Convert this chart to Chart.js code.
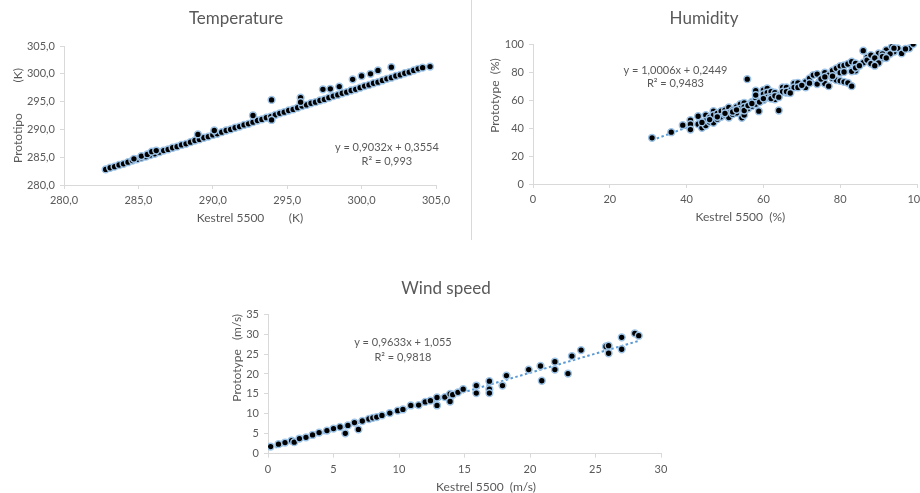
<!DOCTYPE html>
<html>
<head>
<meta charset="utf-8">
<title>Kestrel 5500 vs Prototype</title>
<script src="https://cdn.jsdelivr.net/npm/chart.js@4.4.1/dist/chart.umd.min.js"></script>
<style>
  html, body { margin: 0; padding: 0; background: #fff; }
  body { width: 920px; height: 493px; overflow: hidden; position: relative; }
  .box { position: absolute; }
  #divider { position: absolute; left: 471px; top: 0; width: 1px; height: 240px; background: #d9d9d9; }
</style>
</head>
<body>
<div class="box" style="left:0;top:0;width:472px;height:240px"><canvas id="tempChart"></canvas></div>
<div id="divider"></div>
<div class="box" style="left:472px;top:0;width:464px;height:240px"><canvas id="humChart"></canvas></div>
<div class="box" style="left:200px;top:268px;width:492px;height:235px"><canvas id="windChart"></canvas></div>

<script>
// Temperature (K)
const tempKestrel = [
  282.8, 283.1, 283.4, 283.7, 284.0, 284.3, 284.6, 284.9, 285.2, 285.5, 285.8, 286.1,
  286.4, 286.7, 287.0, 287.3, 287.6, 287.9, 288.2, 288.5, 288.8, 289.1, 289.4, 289.7,
  290.0, 290.3, 290.6, 290.9, 291.2, 291.5, 291.8, 292.1, 292.4, 292.7, 293.0, 293.3,
  293.6, 293.9, 294.2, 294.5, 294.8, 295.1, 295.4, 295.7, 296.0, 296.3, 296.6, 296.9,
  297.2, 297.5, 297.8, 298.1, 298.4, 298.7, 299.0, 299.3, 299.6, 299.9, 300.2, 300.5,
  300.8, 301.1, 301.4, 301.7, 302.0, 302.3, 302.6, 302.9, 303.2, 303.5, 303.8, 304.1,
  284.7, 285.2, 285.6, 285.9, 286.2, 289.0, 290.1, 292.7, 293.95, 293.95, 295.9, 295.9,
  297.4, 297.9, 298.5, 299.4, 300.0, 300.6, 301.1, 302.0, 304.6
];
const tempPrototype = [
  282.8, 283.1, 283.3, 283.6, 283.8, 284.1, 284.4, 284.6, 284.9, 285.1, 285.4, 285.6,
  285.9, 286.2, 286.4, 286.7, 286.9, 287.2, 287.4, 287.7, 288.0, 288.2, 288.5, 288.7,
  289.0, 289.2, 289.5, 289.8, 290.0, 290.3, 290.5, 290.8, 291.0, 291.3, 291.6, 291.8,
  292.1, 292.3, 292.6, 292.9, 293.1, 293.4, 293.6, 293.9, 294.2, 294.4, 294.7, 294.9,
  295.2, 295.4, 295.7, 296.0, 296.2, 296.5, 296.7, 297.0, 297.2, 297.5, 297.8, 298.0,
  298.3, 298.5, 298.8, 299.1, 299.3, 299.6, 299.8, 300.1, 300.3, 300.6, 300.9, 301.1,
  284.7, 285.2, 285.5, 286.0, 286.2, 289.1, 289.8, 292.5, 295.3, 291.7, 295.7, 294.9,
  297.2, 297.3, 297.7, 299.0, 299.6, 300.0, 300.6, 301.2, 301.3
];
const tempTrendX = [282.7, 304.6];
const tempTrendY = [282.8, 301.2];

// Humidity (%)
const humKestrel = [
  31, 36, 39, 41, 41, 41, 43, 43, 44, 45, 45, 45, 46, 46, 47, 47, 47, 48, 48, 49, 49,
  50, 50, 51, 51, 51, 52, 52, 53, 53, 54, 54, 54.4, 55, 55, 55, 55.8, 56, 57, 57, 58,
  58, 58, 58, 58.8, 60, 60, 60, 61, 61, 61, 62, 62, 63, 63, 64, 64, 65, 65, 66, 66, 67,
  68, 68, 69, 71, 71, 72, 73, 74, 74, 76, 76, 77, 77, 78, 78, 79, 79, 80, 80, 81, 81,
  82, 82, 83, 83, 84, 84, 86, 86, 87, 87, 88, 89, 89, 90, 91, 92, 92, 93.5, 94, 95, 96,
  98, 99,
  44, 46, 48, 50, 52, 53, 55, 56, 57, 59, 60, 62, 63, 64, 66, 67, 69, 70, 72, 75, 76,
  78, 80, 81, 83, 84, 85, 88, 89, 90, 91, 93, 94, 97, 89, 91, 92
];
const humPrototype = [
  33, 37, 42, 45.6, 42.7, 38.9, 48.4, 42.7, 40.1, 49.2, 45.1, 41.8, 47.5, 44.2, 52, 49.2,
  43.7, 50.4, 46.3, 52, 48, 52.7, 49.2, 54.7, 50.8, 47.5, 52.7, 49.9, 55.1, 50.8, 57,
  53.9, 47.3, 49.2, 58, 55.1, 74.9, 53.9, 58.7, 55.6, 60.4, 57, 66.6, 63.5, 52, 67.1,
  64.2, 59.9, 68.3, 65.2, 61.8, 65.9, 62.3, 65.2, 60.4, 52.5, 63.5, 69, 65.9, 69, 65.2,
  67.1, 71.8, 69, 72.3, 69, 73, 75.4, 77.8, 71.4, 78.5, 79.5, 71.8, 69.9, 77.8, 80.9,
  75.4, 82.6, 74.2, 84.2, 73.7, 84.7, 73, 85.7, 72.3, 69.9, 87.4, 80.9, 86.2, 95.2, 86.6,
  90.5, 88.5, 92.1, 85.7, 88.5, 93.3, 89.7, 95.7, 92.1, 98.1, 94.5, 96.9, 93.3, 96.9, 100,
  44, 46, 48, 50.5, 51.5, 53, 52.5, 56, 57.5, 58.5, 61, 61, 63, 62, 66, 65, 69, 70.5, 72,
  75, 76.5, 77, 79.5, 80, 80.5, 83, 84.5, 86, 90, 86.5, 93, 93, 97, 96.5, 84.5, 91, 90
];
const humTrendX = [31, 99];
const humTrendY = [31.3, 99.3];

// Wind speed (m/s)
const windKestrel = [
  0.2, 0.8, 1.3, 1.8, 2.0, 2.4, 2.9, 3.4, 3.9, 4.5, 5.0, 5.5, 5.9, 6.1, 6.6, 6.9, 7.2,
  7.7, 8.0, 8.3, 8.7, 9.3, 9.9, 10.3, 10.9, 11.5, 12.0, 12.4, 12.9, 12.9, 13.5, 13.9,
  13.9, 14.1, 14.5, 14.9, 15.9, 15.9, 16.9, 16.9, 16.9, 17.9, 18.2, 19.9, 20.8, 20.9,
  21.9, 21.9, 22.9, 23.2, 23.9, 25.8, 26.0, 26.0, 27.0, 27.0, 28.0, 28.3
];
const windPrototype = [
  1.8, 2.4, 2.8, 3.3, 2.9, 3.8, 4.1, 4.7, 5.3, 5.8, 6.3, 6.7, 5.1, 7.1, 7.8, 6.1, 8.2,
  8.7, 9.0, 9.2, 9.6, 10.2, 10.8, 11.1, 12.1, 12.2, 13.0, 13.3, 14.1, 12.1, 14.2, 15.0,
  13.1, 14.8, 15.4, 16.2, 17.1, 15.2, 18.2, 16.2, 15.2, 17.1, 19.6, 21.1, 22.0, 18.3,
  23.1, 21.1, 20.1, 24.5, 26.0, 26.9, 27.1, 25.2, 29.2, 26.2, 30.2, 29.6
];
const windTrendX = [0.2, 28.4];
const windTrendY = [1.2, 28.4];

const GREY = "#595959";
const FONT = "Lato, 'Open Sans', sans-serif";
Chart.defaults.font.family = FONT;

function points(xs, ys) {
  return xs.map((x, i) => ({ x: x, y: ys[i] }));
}

// leading blanks nudge an axis title off the centre, as in the original sheet
const gap = (n) => " ".repeat(n);

// draws the trendline equation and R² inside the plot
const equationLabels = {
  id: "equationLabels",
  afterDatasetsDraw(chart, args, opts) {
    const { ctx, scales } = chart;
    const px = scales.x.getPixelForValue(opts.x);
    const py = scales.y.getPixelForValue(opts.y);
    ctx.save();
    ctx.font = "11px " + FONT;
    ctx.fillStyle = GREY;
    ctx.textAlign = "center";
    ctx.textBaseline = "middle";
    opts.lines.forEach((t, i) => ctx.fillText(t, px, py + i * opts.gap));
    ctx.restore();
  },
};

function axisLook() {
  return {
    grid: { display: true, drawOnChartArea: false, drawTicks: true, tickLength: 4, color: "#d9d9d9" },
    border: { display: true, color: "#d9d9d9", width: 1 },
  };
}

function makeChart(id, c) {
  return new Chart(document.getElementById(id), {
    type: "scatter",
    data: {
      datasets: [
        {
          label: "Measurements",
          data: points(c.xs, c.ys),
          backgroundColor: "#000000",
          borderColor: "#9dc3e6",
          borderWidth: 1.5,
          pointRadius: 3.4,
          pointHoverRadius: 3.4,
        },
        {
          label: "Linear trend",
          data: points(c.trendX, c.trendY),
          showLine: true,
          borderColor: "#5b9bd5",
          borderWidth: 2,
          borderDash: [2.5, 2.5],
          pointRadius: 0,
          fill: false,
        },
      ],
    },
    options: {
      responsive: true,
      maintainAspectRatio: false,
      animation: false,
      layout: { padding: 0 },
      plugins: {
        legend: { display: false },
        tooltip: { enabled: false },
        title: {
          display: true,
          text: c.title,
          color: GREY,
          font: { size: 17, weight: "normal" },
          padding: { top: c.titlePad[0], bottom: c.titlePad[1] },
        },
        equationLabels: c.equation,
      },
      scales: {
        x: {
          type: "linear",
          min: c.xRange[0],
          max: c.xRange[1],
          ...axisLook(),
          ticks: { stepSize: c.xRange[2], color: GREY, font: { size: 11 }, padding: 5, callback: c.fmt },
          title: {
            display: true,
            text: c.xTitle,
            color: GREY,
            font: { size: 12 },
            padding: { top: 0, bottom: c.xTitlePad },
          },
          afterFit(scale) {
            scale.height = c.size[1] - c.area.bottom;
            scale.paddingRight = c.size[0] - c.area.right;
          },
        },
        y: {
          type: "linear",
          min: c.yRange[0],
          max: c.yRange[1],
          ...axisLook(),
          ticks: { stepSize: c.yRange[2], color: GREY, font: { size: 11 }, padding: 5, callback: c.fmt },
          title: {
            display: true,
            text: c.yTitle,
            color: GREY,
            font: { size: 12 },
            padding: { top: c.yTitlePad, bottom: 0 },
          },
          afterFit(scale) {
            scale.width = c.area.left;
          },
        },
      },
    },
    plugins: [equationLabels],
  });
}

const commaOne = (v) => v.toFixed(1).replace(".", ",");
const plain = (v) => String(v);

makeChart("tempChart", {
  title: "Temperature",
  xs: tempKestrel, ys: tempPrototype,
  trendX: tempTrendX, trendY: tempTrendY,
  xRange: [280, 305, 5], yRange: [280, 305, 5],
  fmt: commaOne,
  xTitle: "Kestrel 5500" + gap(8) + "(K)",
  yTitle: "Prototipo" + gap(10) + "(K)",
  size: [472, 240],
  area: { left: 64, right: 436, bottom: 185 },
  titlePad: [8, 17.6],
  xTitlePad: 14.5,
  yTitlePad: 11,
  equation: { x: 301.7, y: 286.7, gap: 14, lines: ["y = 0,9032x + 0,3554", "R\u00b2 = 0,993"] },
});

makeChart("humChart", {
  title: "Humidity",
  xs: humKestrel, ys: humPrototype,
  trendX: humTrendX, trendY: humTrendY,
  xRange: [0, 100, 20], yRange: [0, 100, 20],
  fmt: plain,
  xTitle: gap(10) + "Kestrel 5500  (%)",
  yTitle: gap(12) + "Prototype  (%)",
  size: [464, 240],
  area: { left: 61, right: 445, bottom: 184 },
  titlePad: [8, 15.6],
  xTitlePad: 16,
  yTitlePad: 15.8,
  equation: { x: 37.1, y: 81.4, gap: 13.5, lines: ["y = 1,0006x + 0,2449", "R\u00b2 = 0,9483"] },
});

makeChart("windChart", {
  title: "Wind speed",
  xs: windKestrel, ys: windPrototype,
  trendX: windTrendX, trendY: windTrendY,
  xRange: [0, 30, 5], yRange: [0, 35, 5],
  fmt: plain,
  xTitle: gap(14) + "Kestrel 5500  (m/s)",
  yTitle: gap(17) + "Prototype   (m/s)",
  size: [492, 235],
  area: { left: 68, right: 461, bottom: 185.7 },
  titlePad: [10, 15.8],
  xTitlePad: 9,
  yTitlePad: 29.5,
  equation: { x: 10.3, y: 28.0, gap: 15, lines: ["y = 0,9633x + 1,055", "R\u00b2 = 0,9818"] },
});
</script>
</body>
</html>
